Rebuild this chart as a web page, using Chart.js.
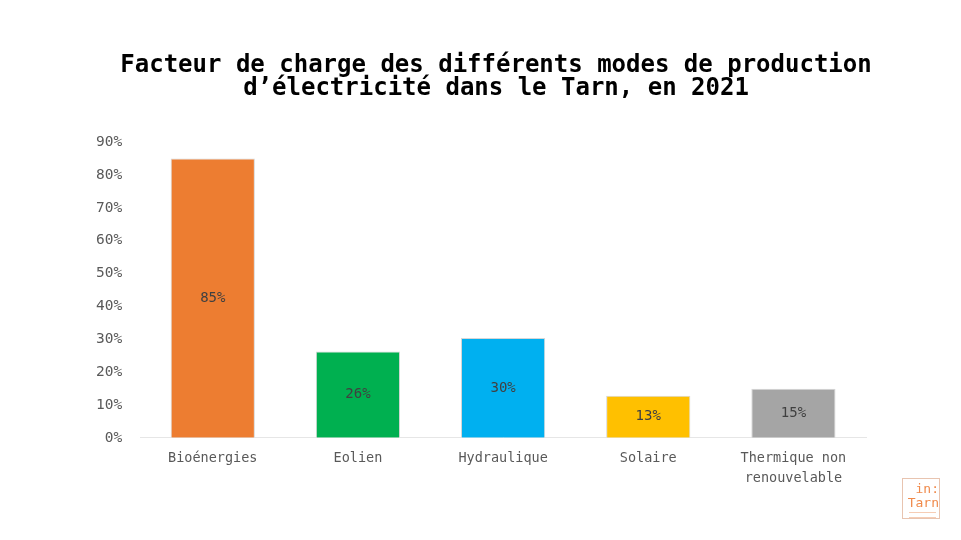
<!DOCTYPE html>
<html lang="fr">
<head>
<meta charset="utf-8">
<title>Facteur de charge - Tarn 2021</title>
<script src="https://cdn.jsdelivr.net/npm/chart.js@4/dist/chart.umd.min.js"></script>
<style>
    html, body { margin: 0; padding: 0; background: #fff; }
    #wrap { position: relative; width: 961px; height: 540px; }
    #logo {
        position: absolute; left: 902px; top: 478px; width: 38px; height: 41px;
        border: 1px solid #e8c4b0; box-sizing: border-box;
        font-family: "DejaVu Sans Mono", monospace; color: #f08a4b;
        font-size: 13px; line-height: 14px; text-align: right; padding: 3px 0 0 0;
        overflow: hidden;
    }
    #logo small { display: block; height: 4px; margin: 2px 3px 0 6px; border-top: 1px solid #f6cdb5; border-bottom: 1px solid #f6cdb5; }
</style>
</head>
<body>
<div id="wrap">
    <canvas id="loadChart" width="961" height="540"></canvas>
    <div id="logo">in:<br>Tarn<small></small></div>
</div>
<script>
const categories = ['Bioénergies', 'Eolien', 'Hydraulique', 'Solaire', ['Thermique non', 'renouvelable']];
const loadFactors = [85, 26.3, 30.4, 12.8, 14.9];
const barColors = ['#ED7D31', '#00B050', '#00B0F0', '#FFC000', '#A5A5A5'];
const yTicks = [0, 10, 20, 30, 40, 50, 60, 70, 80, 90];
const titleLines = ['Facteur de charge des différents modes de production', 'd\u2019électricité dans le Tarn, en 2021'];

const monoFont = '"DejaVu Sans Mono", "Liberation Mono", monospace';

// value label in the middle of each bar + title drawn by hand (it is off-centre in the original)
const barLabels = {
    id: 'barLabels',
    afterDatasetsDraw(chart) {
        const ctx = chart.ctx;
        const meta = chart.getDatasetMeta(0);
        ctx.save();
        ctx.font = '14px ' + monoFont;
        ctx.fillStyle = '#404040';
        ctx.textAlign = 'center';
        ctx.textBaseline = 'middle';
        meta.data.forEach((bar, i) => {
            const mid = (bar.y + bar.base) / 2;
            ctx.fillText(Math.round(loadFactors[i]) + '%', bar.x, mid);
        });

        ctx.font = 'bold 24px ' + monoFont;
        ctx.fillStyle = '#000';
        titleLines.forEach((line, i) => {
            ctx.fillText(line, 496, 66 + i * 23);
        });
        ctx.restore();
    }
};

function initChart() {
    const ctx = document.getElementById('loadChart').getContext('2d');
    new Chart(ctx, {
        type: 'bar',
        data: {
            labels: categories,
            datasets: [{
                data: loadFactors,
                backgroundColor: barColors,
                borderColor: '#d6d6d6',
                borderWidth: { top: 1, left: 1, right: 1, bottom: 0 },
                barPercentage: 0.58,
                categoryPercentage: 1
            }]
        },
        options: {
            responsive: false,
            animation: false,
            layout: { padding: { left: 86, right: 95, top: 142, bottom: 49 } },
            plugins: {
                legend: { display: false },
                tooltip: { enabled: false },
                title: { display: false }
            },
            scales: {
                x: {
                    grid: { display: false },
                    border: { display: true, color: '#e6e6e6', width: 1 },
                    ticks: { color: '#595959', font: { family: monoFont, size: 13.5, lineHeight: 1.45 }, padding: 3, maxRotation: 0 }
                },
                y: {
                    min: 0,
                    max: 90,
                    afterBuildTicks: axis => { axis.ticks = yTicks.map(v => ({ value: v })); },
                    grid: { display: false },
                    border: { display: false },
                    ticks: {
                        color: '#595959',
                        font: { family: monoFont, size: 14.5 },
                        padding: 10,
                        callback: v => v + '%'
                    }
                }
            }
        },
        plugins: [barLabels]
    });
}

document.addEventListener('DOMContentLoaded', initChart);
</script>
</body>
</html>
